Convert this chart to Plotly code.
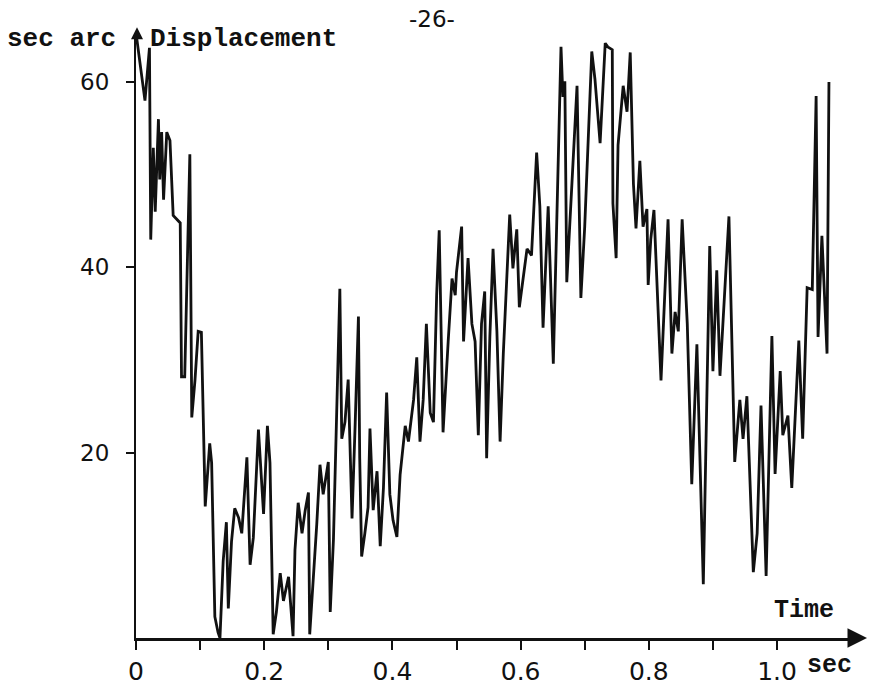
import plotly.graph_objects as go

# ---- data ----
time_s = [0.001, 0.014, 0.021, 0.023, 0.027, 0.030, 0.035, 0.037, 0.040, 0.043,
          0.048, 0.053, 0.058, 0.069, 0.071, 0.076, 0.084, 0.087, 0.092, 0.097,
          0.102, 0.108, 0.115, 0.118, 0.123, 0.128, 0.131, 0.136, 0.141, 0.144,
          0.149, 0.154, 0.160, 0.165, 0.173, 0.178, 0.183, 0.191, 0.199, 0.205,
          0.209, 0.214, 0.219, 0.225, 0.230, 0.238, 0.245, 0.248, 0.253, 0.259,
          0.264, 0.269, 0.271, 0.277, 0.282, 0.287, 0.292, 0.300, 0.303, 0.308,
          0.313, 0.318, 0.321, 0.326, 0.331, 0.337, 0.342, 0.347, 0.349, 0.352,
          0.357, 0.362, 0.365, 0.370, 0.376, 0.381, 0.386, 0.391, 0.396, 0.401,
          0.407, 0.412, 0.420, 0.425, 0.433, 0.438, 0.443, 0.448, 0.453, 0.459,
          0.464, 0.469, 0.473, 0.479, 0.487, 0.493, 0.498, 0.500, 0.508, 0.511,
          0.518, 0.524, 0.529, 0.534, 0.539, 0.544, 0.547, 0.552, 0.557, 0.563,
          0.568, 0.573, 0.583, 0.588, 0.594, 0.598, 0.610, 0.617, 0.625, 0.630,
          0.635, 0.643, 0.651, 0.663, 0.666, 0.669, 0.672, 0.688, 0.694, 0.700,
          0.711, 0.716, 0.724, 0.732, 0.736, 0.743, 0.744, 0.749, 0.752, 0.760,
          0.766, 0.771, 0.776, 0.780, 0.786, 0.791, 0.797, 0.799, 0.803, 0.808,
          0.819, 0.830, 0.836, 0.841, 0.846, 0.852, 0.860, 0.867, 0.875, 0.885,
          0.895, 0.900, 0.906, 0.911, 0.925, 0.934, 0.942, 0.947, 0.953, 0.963,
          0.969, 0.975, 0.983, 0.992, 0.997, 1.005, 1.009, 1.017, 1.023, 1.034,
          1.040, 1.047, 1.055, 1.061, 1.064, 1.070, 1.078, 1.081]

displacement = [64.8, 58.0, 63.7, 43.0, 52.9, 46.0, 56.0, 49.5, 54.6, 47.3,
                54.6, 53.7, 45.6, 44.8, 28.2, 28.2, 52.2, 23.8, 27.8, 33.1,
                33.0, 14.2, 21.0, 18.9, 2.3, 0.6, 0.0, 8.3, 12.5, 3.2,
                10.4, 14.0, 13.0, 11.3, 19.5, 7.9, 10.8, 22.5, 13.4, 22.9,
                18.9, 0.4, 2.8, 7.0, 4.0, 6.6, 0.2, 9.5, 14.6, 11.3,
                13.8, 15.7, 0.4, 6.3, 12.3, 18.7, 15.5, 19.0, 2.8, 10.6,
                25.0, 37.7, 21.5, 23.3, 27.9, 12.9, 23.3, 34.7, 19.4, 8.8,
                11.3, 14.1, 22.6, 13.8, 18.0, 9.9, 16.2, 26.5, 15.5, 12.7,
                10.9, 17.6, 22.9, 21.2, 25.7, 30.3, 21.2, 25.7, 33.9, 24.3,
                23.3, 37.0, 44.0, 22.2, 32.0, 38.8, 37.0, 39.5, 44.4, 32.0,
                41.0, 33.9, 32.0, 21.9, 33.9, 37.4, 19.4, 32.5, 42.0, 33.1,
                21.2, 30.7, 45.7, 39.9, 44.1, 35.7, 42.0, 41.3, 52.4, 46.6,
                33.5, 46.6, 29.6, 63.8, 58.4, 60.1, 38.4, 59.6, 36.7, 44.4,
                63.3, 60.3, 53.4, 64.2, 63.8, 63.5, 46.9, 41.0, 53.2, 59.6,
                56.8, 63.2, 49.0, 44.2, 51.5, 44.4, 46.3, 38.1, 43.0, 46.2,
                27.8, 45.2, 30.7, 35.2, 33.1, 45.2, 33.9, 16.6, 31.7, 5.8,
                42.3, 28.8, 39.7, 28.3, 45.5, 19.0, 25.7, 21.5, 26.1, 7.1,
                11.3, 25.1, 6.7, 32.6, 17.7, 28.8, 21.9, 24.0, 16.2, 32.1,
                21.5, 37.8, 37.6, 58.5, 32.5, 43.4, 30.7, 60.0]

x_tick_vals = [0.0, 0.1, 0.2, 0.3, 0.4, 0.5, 0.6, 0.7, 0.8, 0.9, 1.0]
x_tick_text = ["0", "", "0.2", "", "0.4", "", "0.6", "", "0.8", "", "1.0"]
y_tick_vals = [20, 40, 60]
y_tick_text = ["20", "40", "60"]

# ---- figure geometry (page pixels) ----
W, H = 869, 698
PLOT_LEFT, PLOT_RIGHT, PLOT_TOP, PLOT_BOTTOM = 136, 856, 38, 650
ML = PLOT_LEFT
MT = PLOT_TOP
MR = W - PLOT_RIGHT
MB = H - PLOT_BOTTOM
plot_w = PLOT_RIGHT - PLOT_LEFT
plot_h = PLOT_BOTTOM - PLOT_TOP

X_MAX = 1.1232
Y_MAX = 64.76

mono = "Liberation Mono"
sans = "DejaVu Sans"
INK = "#111111"

fig = go.Figure()
fig.add_trace(go.Scatter(
    x=time_s, y=displacement, mode="lines",
    line=dict(color=INK, width=2.8),
    cliponaxis=False, showlegend=False, hoverinfo="skip",
))


def pp(px, py):
    """page pixel -> paper coordinates"""
    return (px - PLOT_LEFT) / plot_w, (PLOT_BOTTOM - py) / plot_h


annotations = []
# axis arrows
tip = pp(867, 650)
annotations.append(dict(xref="paper", yref="paper", x=tip[0], y=tip[1],
                        text="", showarrow=True, ax=-18, ay=0,
                        arrowhead=2, arrowsize=1.3, arrowwidth=3, arrowcolor=INK))
tip = pp(137, 27)
annotations.append(dict(xref="paper", yref="paper", x=tip[0], y=tip[1],
                        text="", showarrow=True, ax=0, ay=16,
                        arrowhead=2, arrowsize=1.2, arrowwidth=2, arrowcolor=INK))


def txt(px, py, text, family, size, xanchor="center"):
    p = pp(px, py)
    annotations.append(dict(xref="paper", yref="paper", x=p[0], y=p[1], text=text,
                            showarrow=False, font=dict(family=family, size=size, color=INK),
                            xanchor=xanchor, yanchor="middle", borderpad=0))


txt(432, 19, "-26-", sans, 23)
txt(117, 39, "<b>sec arc</b>", mono, 26, "right")
txt(149, 39, "<b>Displacement</b>", mono, 26, "left")
txt(804, 622, "<b>Time</b>", mono, 25)
txt(806, 678, "<b>sec</b>", mono, 25, "left")

fig.update_layout(
    width=W, height=H,
    margin=dict(l=ML, r=MR, t=MT, b=MB, pad=0),
    paper_bgcolor="white", plot_bgcolor="white",
    showlegend=False,
    annotations=annotations,
    xaxis=dict(
        range=[0, X_MAX], tickmode="array", tickvals=x_tick_vals, ticktext=x_tick_text,
        ticks="outside", ticklen=9, tickwidth=2, tickcolor=INK,
        showline=True, linecolor=INK, linewidth=3,
        showgrid=False, zeroline=False,
        tickfont=dict(family=sans, size=25, color=INK),
        fixedrange=True,
    ),
    yaxis=dict(
        range=[0, Y_MAX], tickmode="array", tickvals=y_tick_vals, ticktext=y_tick_text,
        ticks="outside", ticklen=8, tickwidth=2, tickcolor=INK,
        ticklabelstandoff=12,
        showline=True, linecolor=INK, linewidth=2,
        showgrid=False, zeroline=False,
        tickfont=dict(family=sans, size=23, color=INK),
        fixedrange=True,
    ),
)

# remove the browser's default 8px body margin so the figure fills the window exactly
fig.write_html("out.html",
               config={"displayModeBar": False, "staticPlot": True},
               post_script="document.body.style.margin='0';document.body.style.overflow='hidden';")
